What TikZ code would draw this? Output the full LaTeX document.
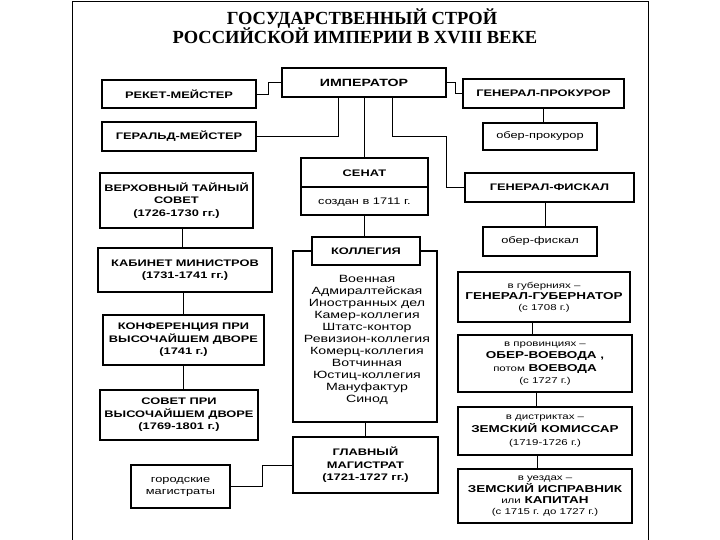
\documentclass[tikz,border=0pt]{standalone}
\usepackage{fontspec}
\newfontfamily\boxf{Liberation Sans}[FakeStretch=1.35]
\newfontfamily\titlef{Liberation Serif}
\newcommand\mysmall{\fontsize{8.5}{10.5}\selectfont\mdseries}
\begin{document}
\begin{tikzpicture}[x=1pt,y=-1pt,
  box/.style={draw, line width=1.2pt, inner sep=0pt, align=center, fill=white,
    font=\boxf\fontsize{9.5}{12.5}\selectfont\bfseries},
  rbox/.style={box, font=\boxf\fontsize{10}{#1}\selectfont\bfseries},
  plainbox/.style={box, font=\boxf\fontsize{9.5}{12}\selectfont\mdseries},
  boxsz/.style 2 args={minimum width=#1pt, minimum height=#2pt},
  conn/.style={line width=0.8pt},
  lbl/.style={inner sep=0pt, align=center}]
\useasboundingbox (0,0) rectangle (720,540);
\fill[white] (0,0) rectangle (720,540);
% frame
\draw[line width=1pt] (72,540) -- (72,2) -- (648,2) -- (648,540);
% title
\node[lbl, font=\titlef\fontsize{18.5}{20}\selectfont\bfseries] (t1) at (362,18.5) {ГОСУДАРСТВЕННЫЙ СТРОЙ};
\node[lbl, font=\titlef\fontsize{18.5}{20}\selectfont\bfseries] (t2) at (355,35.5) {РОССИЙСКОЙ ИМПЕРИИ В XVIII ВЕКЕ};

% top row
\node[box, boxsz={164}{29}, font=\boxf\fontsize{10.5}{12}\selectfont\bfseries] (imp) at (364,82.5) {ИМПЕРАТОР};
\node[box, boxsz={154}{28}] (reket) at (179,94) {РЕКЕТ-МЕЙСТЕР};
\node[box, boxsz={154}{29}] (gerald) at (179,136.5) {ГЕРАЛЬД-МЕЙСТЕР};
\node[box, boxsz={161}{29}] (genprok) at (543.5,93.5) {ГЕНЕРАЛ-ПРОКУРОР};
\node[plainbox, boxsz={114}{27}] (oberprok) at (540,136.5) {обер-прокурор};
\node[box, boxsz={169}{29}] (genfisk) at (549.5,187.5) {ГЕНЕРАЛ-ФИСКАЛ};
\node[plainbox, boxsz={114}{29}] (oberfisk) at (540,241.5) {обер-фискал};

% right column
\node[rbox=11, boxsz={172}{50}] (gengub) at (544,297) {{\mysmall в губерниях –}\\ГЕНЕРАЛ-ГУБЕРНАТОР\\{\mysmall (с 1708 г.)}};
\node[rbox=12.2, boxsz={174}{57}] (oberv) at (545,363.5) {{\mysmall в провинциях –}\\ОБЕР-ВОЕВОДА ,\\{\mysmall потом} ВОЕВОДА\\{\mysmall (с 1727 г.)}};
\node[rbox=12.8, boxsz={174}{48}] (zemkom) at (545,431) {{\mysmall в дистриктах –}\\ЗЕМСКИЙ КОМИССАР\\{\mysmall (1719-1726 г.)}};
\node[rbox=10.8, boxsz={174}{54}] (zemispr) at (545,496) {{\mysmall в уездах –}\\ЗЕМСКИЙ ИСПРАВНИК\\{\mysmall или} КАПИТАН\\{\mysmall (с 1715 г. до 1727 г.)}};

% left column
\node[box, boxsz={153}{55}] (verh) at (176.5,200.5) {ВЕРХОВНЫЙ ТАЙНЫЙ\\СОВЕТ\\(1726-1730 гг.)};
\node[box, boxsz={174}{44}] (kabinet) at (185,270) {КАБИНЕТ МИНИСТРОВ\\(1731-1741 гг.)};
\node[box, boxsz={161}{50}] (konf) at (183.5,340) {КОНФЕРЕНЦИЯ ПРИ\\ВЫСОЧАЙШЕМ ДВОРЕ\\(1741 г.)};
\node[box, boxsz={158}{50}] (sovet) at (179,415) {СОВЕТ ПРИ\\ВЫСОЧАЙШЕМ ДВОРЕ\\(1769-1801 г.)};

% centre
\node[box, boxsz={127}{57}] (senat) at (364.5,186.5) {};
\draw[line width=1.2pt] (senat.west |- 0,187) -- (senat.east |- 0,187);
\node[lbl, font=\boxf\fontsize{9.5}{12}\selectfont\bfseries] (senatt) at (364.5,173) {СЕНАТ};
\node[lbl, font=\boxf\fontsize{9.5}{12}\selectfont] (senatd) at (364.5,202.5) {создан в 1711 г.};
\node[box, boxsz={144}{171}] (list) at (365,336.5) {};
\node[box, boxsz={108}{28}] (koll) at (366,251) {КОЛЛЕГИЯ};
\node[lbl, font=\boxf\fontsize{10.5}{12}\selectfont] (listt) at (367,340) {Военная\\Адмиралтейская\\Иностранных дел\\Камер-коллегия\\Штатс-контор\\Ревизион-коллегия\\Комерц-коллегия\\Вотчинная\\Юстиц-коллегия\\Мануфактур\\Синод};
\node[box, boxsz={145}{56}] (glav) at (365.5,465) {ГЛАВНЫЙ\\МАГИСТРАТ\\(1721-1727 гг.)};
\node[plainbox, boxsz={99}{43}] (gorod) at (180.5,486.5) {городские\\магистраты};

% connectors
\draw[conn] (reket.east) -- ++(12,0) |- (imp.west);
\draw[conn] (gerald.east) -| ([xshift=-26pt]imp.south);
\draw[conn] (imp.south) -- (imp.south |- senat.north);
\coordinate (j1) at (446,136);
\draw[conn] ([xshift=28pt]imp.south) |- (j1) |- (genfisk.west);
\draw[conn] (imp.east) -- ++(9,0) |- (genprok.west);
\draw[conn] (genprok.south) -- (genprok.south |- oberprok.north);
\draw[conn] ([xshift=5pt]oberfisk.north) -- ([xshift=5pt]oberfisk.north |- genfisk.south);
\draw[conn] ([xshift=-12pt]gengub.south) -- ([xshift=-12pt]gengub.south |- oberv.north);
\draw[conn] ([xshift=-9pt]oberv.south) -- ([xshift=-9pt]oberv.south |- zemkom.north);
\draw[conn] ([xshift=-8pt]zemkom.south) -- ([xshift=-8pt]zemkom.south |- zemispr.north);
\draw[conn] ([xshift=5.5pt]verh.south) -- ([xshift=5.5pt]verh.south |- kabinet.north);
\draw[conn] (konf.north) -- (konf.north |- kabinet.south);
\draw[conn] (konf.south) -- (konf.south |- sovet.north);
\draw[conn] (senat.south) -- (senat.south |- koll.north);
\draw[conn] (list.south) -- (list.south |- glav.north);
\draw[conn] (gorod.east) -- ++(32,0) |- (glav.west);
\end{tikzpicture}
\end{document}
